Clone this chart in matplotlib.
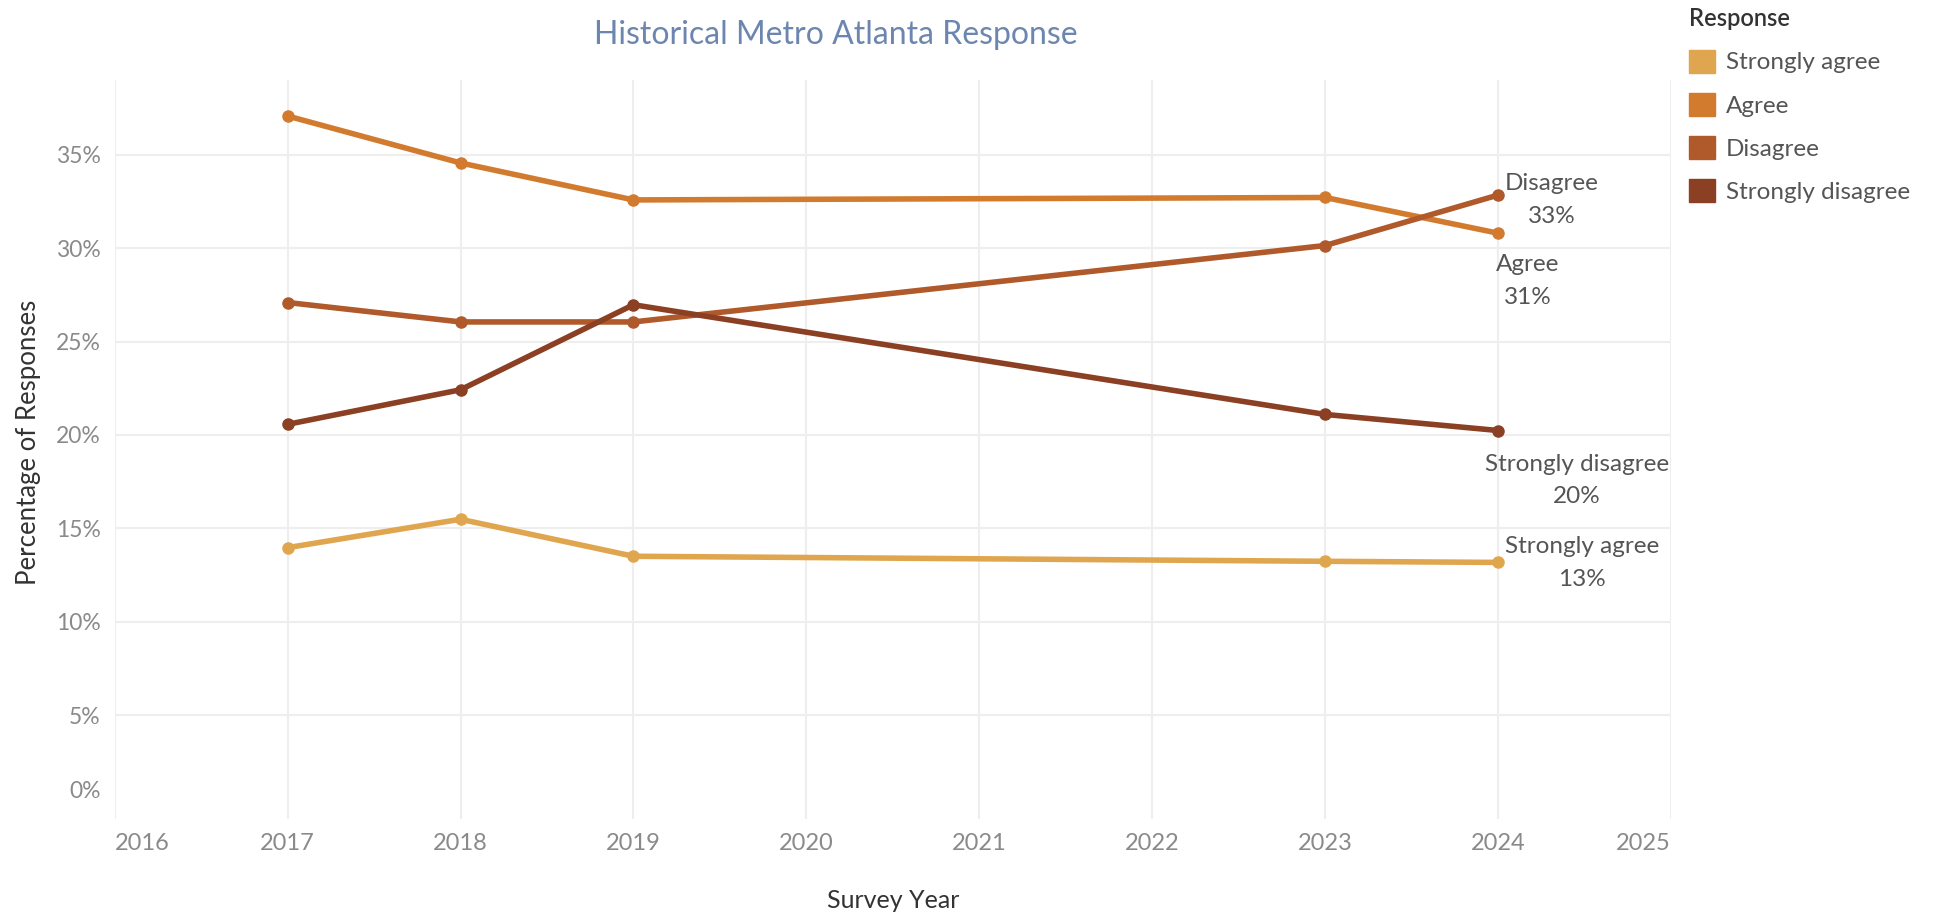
import matplotlib.pyplot as plt
import matplotlib.transforms as mtransforms
from matplotlib.patches import Patch

plt.rcParams['font.family'] = ['Lato', 'DejaVu Sans']

# survey data (share of responses, %)
years = [2017, 2018, 2019, 2023, 2024]
responses = ['Strongly agree', 'Agree', 'Disagree', 'Strongly disagree']
strongly_agree = [13.97, 15.49, 13.51, 13.24, 13.18]
agree = [37.07, 34.56, 32.58, 32.71, 30.80]
disagree = [27.09, 26.05, 26.05, 30.14, 32.84]
strongly_disagree = [20.57, 22.42, 26.97, 21.10, 20.24]
colors = ['#E0A64F', '#D27B2F', '#B0592A', '#8B3F23']
series = [strongly_agree, agree, disagree, strongly_disagree]

# where the end label sits relative to the last point (pixels)
label_offsets = {'Strongly agree': (84, -1), 'Agree': (30, -48),
                 'Disagree': (54, -5), 'Strongly disagree': (79, -50)}

fig = plt.figure(figsize=(19.34, 9.17), dpi=100)
ax = fig.add_axes([0.0593, 0.1069, 0.8047, 0.8059])

for name, vals, c in zip(responses, series, colors):
    ax.plot(years, vals, color=c, lw=4, marker='o', ms=8, solid_capstyle='round', zorder=3)
    dx, dy = label_offsets[name]
    ax.annotate(f'{name}\n{vals[-1]:.0f}%', xy=(years[-1], vals[-1]), xytext=(dx, dy),
                textcoords='offset pixels', ha='center', va='center', fontsize=17.5,
                color='#555555', linespacing=1.7)

ax.set_xlim(2016, 2025)
ax.set_ylim(-0.55, 39)
ax.set_xticks(range(2016, 2026))
ax.set_yticks(range(0, 40, 5))
ax.set_yticklabels([f'{v}%' for v in range(0, 40, 5)])
ax.tick_params(length=0, labelsize=16.5, labelcolor='#8a8a8a', pad=10)
ax.tick_params(axis='x', labelsize=17)

ax.grid(True, color='#eeeeee', lw=1.5, zorder=0)
ax.yaxis.get_gridlines()[0].set_visible(False)
for s in ax.spines.values():
    s.set_visible(False)

xlabels = ax.get_xticklabels()
xlabels[0].set_ha('left')
xlabels[-1].set_ha('right')
zero_lab = ax.yaxis.get_major_ticks()[0].label1
zero_lab.set_transform(zero_lab.get_transform() +
                       mtransforms.ScaledTranslation(0, 0.19, fig.dpi_scale_trans))

ax.set_xlabel('Survey Year', fontsize=18, color='#333333', va='center')
ax.xaxis.set_label_coords(0.5, -0.11)
ax.set_ylabel('Percentage of Responses', fontsize=18.5, color='#333333', va='center')
ax.yaxis.set_label_coords(-0.0555, 0.51)

fig.text(0.432, 0.962, 'Historical Metro Atlanta Response', fontsize=23,
         color='#6C86B0', ha='center', va='center')

handles = [Patch(facecolor=c, edgecolor=c) for c in colors]
leg = fig.legend(handles, responses, loc='upper left', bbox_to_anchor=(0.8735, 0.992),
                 frameon=False, fontsize=17.5, handlelength=1.07, handleheight=1.07,
                 handletextpad=0.42, labelspacing=0.8, borderpad=0, borderaxespad=0,
                 title='Response', title_fontproperties={'size': 17, 'weight': 'semibold'},
                 alignment='left', labelcolor='#555555')
leg.get_title().set_color('#333333')

fig.savefig('out.png', dpi=100, facecolor='white')
